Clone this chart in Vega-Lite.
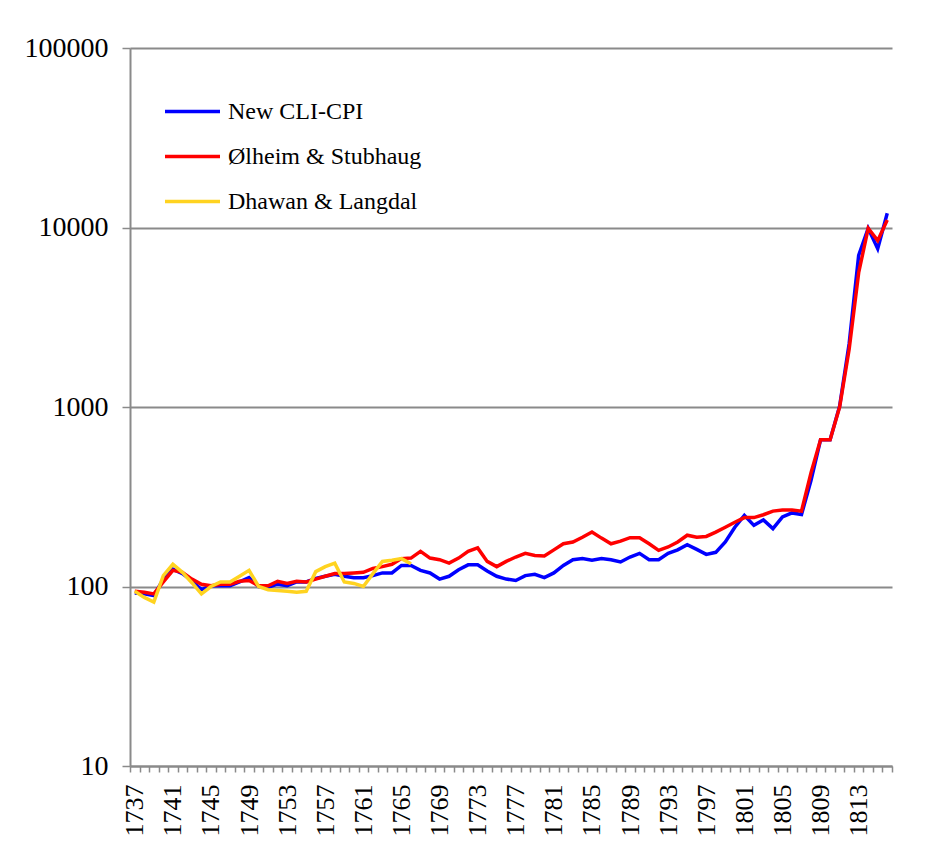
{
  "$schema": "https://vega.github.io/schema/vega-lite/v6.json",
  "width": 762,
  "height": 718,
  "autosize": {"type": "none"},
  "padding": {"left": 130, "top": 48, "right": 41, "bottom": 81},
  "background": "white",
  "config": {"view": {"stroke": null}, "font": "Liberation Serif"},
  "data": {
    "values": [
      {"year":1737,"series":"New CLI-CPI","value":92},{"year":1738,"series":"New CLI-CPI","value":91},{"year":1739,"series":"New CLI-CPI","value":89},{"year":1740,"series":"New CLI-CPI","value":110},{"year":1741,"series":"New CLI-CPI","value":125},{"year":1742,"series":"New CLI-CPI","value":118},{"year":1743,"series":"New CLI-CPI","value":108},{"year":1744,"series":"New CLI-CPI","value":96},{"year":1745,"series":"New CLI-CPI","value":101},{"year":1746,"series":"New CLI-CPI","value":101},{"year":1747,"series":"New CLI-CPI","value":101},{"year":1748,"series":"New CLI-CPI","value":106},{"year":1749,"series":"New CLI-CPI","value":112},{"year":1750,"series":"New CLI-CPI","value":100},{"year":1751,"series":"New CLI-CPI","value":99},{"year":1752,"series":"New CLI-CPI","value":103},{"year":1753,"series":"New CLI-CPI","value":101},{"year":1754,"series":"New CLI-CPI","value":106},{"year":1755,"series":"New CLI-CPI","value":106},{"year":1756,"series":"New CLI-CPI","value":111},{"year":1757,"series":"New CLI-CPI","value":114},{"year":1758,"series":"New CLI-CPI","value":117},{"year":1759,"series":"New CLI-CPI","value":114},{"year":1760,"series":"New CLI-CPI","value":112},{"year":1761,"series":"New CLI-CPI","value":112},{"year":1762,"series":"New CLI-CPI","value":115},{"year":1763,"series":"New CLI-CPI","value":119},{"year":1764,"series":"New CLI-CPI","value":119},{"year":1765,"series":"New CLI-CPI","value":131},{"year":1766,"series":"New CLI-CPI","value":131},{"year":1767,"series":"New CLI-CPI","value":123},{"year":1768,"series":"New CLI-CPI","value":119},{"year":1769,"series":"New CLI-CPI","value":110},{"year":1770,"series":"New CLI-CPI","value":114},{"year":1771,"series":"New CLI-CPI","value":124},{"year":1772,"series":"New CLI-CPI","value":132},{"year":1773,"series":"New CLI-CPI","value":132},{"year":1774,"series":"New CLI-CPI","value":122},{"year":1775,"series":"New CLI-CPI","value":114},{"year":1776,"series":"New CLI-CPI","value":110},{"year":1777,"series":"New CLI-CPI","value":108},{"year":1778,"series":"New CLI-CPI","value":115},{"year":1779,"series":"New CLI-CPI","value":117},{"year":1780,"series":"New CLI-CPI","value":112},{"year":1781,"series":"New CLI-CPI","value":119},{"year":1782,"series":"New CLI-CPI","value":131},{"year":1783,"series":"New CLI-CPI","value":141},{"year":1784,"series":"New CLI-CPI","value":143},{"year":1785,"series":"New CLI-CPI","value":140},{"year":1786,"series":"New CLI-CPI","value":143},{"year":1787,"series":"New CLI-CPI","value":141},{"year":1788,"series":"New CLI-CPI","value":137},{"year":1789,"series":"New CLI-CPI","value":146},{"year":1790,"series":"New CLI-CPI","value":153},{"year":1791,"series":"New CLI-CPI","value":141},{"year":1792,"series":"New CLI-CPI","value":141},{"year":1793,"series":"New CLI-CPI","value":153},{"year":1794,"series":"New CLI-CPI","value":160},{"year":1795,"series":"New CLI-CPI","value":171},{"year":1796,"series":"New CLI-CPI","value":161},{"year":1797,"series":"New CLI-CPI","value":151},{"year":1798,"series":"New CLI-CPI","value":155},{"year":1799,"series":"New CLI-CPI","value":177},{"year":1800,"series":"New CLI-CPI","value":214},{"year":1801,"series":"New CLI-CPI","value":249},{"year":1802,"series":"New CLI-CPI","value":219},{"year":1803,"series":"New CLI-CPI","value":235},{"year":1804,"series":"New CLI-CPI","value":210},{"year":1805,"series":"New CLI-CPI","value":244},{"year":1806,"series":"New CLI-CPI","value":257},{"year":1807,"series":"New CLI-CPI","value":252},{"year":1808,"series":"New CLI-CPI","value":390},{"year":1809,"series":"New CLI-CPI","value":656},{"year":1810,"series":"New CLI-CPI","value":656},{"year":1811,"series":"New CLI-CPI","value":1010},{"year":1812,"series":"New CLI-CPI","value":2250},{"year":1813,"series":"New CLI-CPI","value":7000},{"year":1814,"series":"New CLI-CPI","value":9900},{"year":1815,"series":"New CLI-CPI","value":7620},{"year":1816,"series":"New CLI-CPI","value":12000},
      {"year":1737,"series":"Ølheim & Stubhaug","value":94},{"year":1738,"series":"Ølheim & Stubhaug","value":93},{"year":1739,"series":"Ølheim & Stubhaug","value":91},{"year":1740,"series":"Ølheim & Stubhaug","value":106},{"year":1741,"series":"Ølheim & Stubhaug","value":123},{"year":1742,"series":"Ølheim & Stubhaug","value":120},{"year":1743,"series":"Ølheim & Stubhaug","value":110},{"year":1744,"series":"Ølheim & Stubhaug","value":103},{"year":1745,"series":"Ølheim & Stubhaug","value":101},{"year":1746,"series":"Ølheim & Stubhaug","value":103},{"year":1747,"series":"Ølheim & Stubhaug","value":103},{"year":1748,"series":"Ølheim & Stubhaug","value":107},{"year":1749,"series":"Ølheim & Stubhaug","value":108},{"year":1750,"series":"Ølheim & Stubhaug","value":101},{"year":1751,"series":"Ølheim & Stubhaug","value":101},{"year":1752,"series":"Ølheim & Stubhaug","value":107},{"year":1753,"series":"Ølheim & Stubhaug","value":104},{"year":1754,"series":"Ølheim & Stubhaug","value":107},{"year":1755,"series":"Ølheim & Stubhaug","value":106},{"year":1756,"series":"Ølheim & Stubhaug","value":110},{"year":1757,"series":"Ølheim & Stubhaug","value":114},{"year":1758,"series":"Ølheim & Stubhaug","value":118},{"year":1759,"series":"Ølheim & Stubhaug","value":118},{"year":1760,"series":"Ølheim & Stubhaug","value":119},{"year":1761,"series":"Ølheim & Stubhaug","value":120},{"year":1762,"series":"Ølheim & Stubhaug","value":126},{"year":1763,"series":"Ølheim & Stubhaug","value":129},{"year":1764,"series":"Ølheim & Stubhaug","value":133},{"year":1765,"series":"Ølheim & Stubhaug","value":143},{"year":1766,"series":"Ølheim & Stubhaug","value":144},{"year":1767,"series":"Ølheim & Stubhaug","value":157},{"year":1768,"series":"Ølheim & Stubhaug","value":144},{"year":1769,"series":"Ølheim & Stubhaug","value":141},{"year":1770,"series":"Ølheim & Stubhaug","value":135},{"year":1771,"series":"Ølheim & Stubhaug","value":144},{"year":1772,"series":"Ølheim & Stubhaug","value":157},{"year":1773,"series":"Ølheim & Stubhaug","value":164},{"year":1774,"series":"Ølheim & Stubhaug","value":138},{"year":1775,"series":"Ølheim & Stubhaug","value":129},{"year":1776,"series":"Ølheim & Stubhaug","value":138},{"year":1777,"series":"Ølheim & Stubhaug","value":146},{"year":1778,"series":"Ølheim & Stubhaug","value":153},{"year":1779,"series":"Ølheim & Stubhaug","value":149},{"year":1780,"series":"Ølheim & Stubhaug","value":148},{"year":1781,"series":"Ølheim & Stubhaug","value":160},{"year":1782,"series":"Ølheim & Stubhaug","value":173},{"year":1783,"series":"Ølheim & Stubhaug","value":177},{"year":1784,"series":"Ølheim & Stubhaug","value":188},{"year":1785,"series":"Ølheim & Stubhaug","value":201},{"year":1786,"series":"Ølheim & Stubhaug","value":186},{"year":1787,"series":"Ølheim & Stubhaug","value":173},{"year":1788,"series":"Ølheim & Stubhaug","value":179},{"year":1789,"series":"Ølheim & Stubhaug","value":187},{"year":1790,"series":"Ølheim & Stubhaug","value":187},{"year":1791,"series":"Ølheim & Stubhaug","value":173},{"year":1792,"series":"Ølheim & Stubhaug","value":159},{"year":1793,"series":"Ølheim & Stubhaug","value":166},{"year":1794,"series":"Ølheim & Stubhaug","value":177},{"year":1795,"series":"Ølheim & Stubhaug","value":193},{"year":1796,"series":"Ølheim & Stubhaug","value":188},{"year":1797,"series":"Ølheim & Stubhaug","value":190},{"year":1798,"series":"Ølheim & Stubhaug","value":201},{"year":1799,"series":"Ølheim & Stubhaug","value":214},{"year":1800,"series":"Ølheim & Stubhaug","value":228},{"year":1801,"series":"Ølheim & Stubhaug","value":242},{"year":1802,"series":"Ølheim & Stubhaug","value":242},{"year":1803,"series":"Ølheim & Stubhaug","value":251},{"year":1804,"series":"Ølheim & Stubhaug","value":263},{"year":1805,"series":"Ølheim & Stubhaug","value":267},{"year":1806,"series":"Ølheim & Stubhaug","value":267},{"year":1807,"series":"Ølheim & Stubhaug","value":263},{"year":1808,"series":"Ølheim & Stubhaug","value":430},{"year":1809,"series":"Ølheim & Stubhaug","value":656},{"year":1810,"series":"Ølheim & Stubhaug","value":656},{"year":1811,"series":"Ølheim & Stubhaug","value":1000},{"year":1812,"series":"Ølheim & Stubhaug","value":2100},{"year":1813,"series":"Ølheim & Stubhaug","value":5600},{"year":1814,"series":"Ølheim & Stubhaug","value":9900},{"year":1815,"series":"Ølheim & Stubhaug","value":8450},{"year":1816,"series":"Ølheim & Stubhaug","value":11000},
      {"year":1737,"series":"Dhawan & Langdal","value":94},{"year":1738,"series":"Dhawan & Langdal","value":87},{"year":1739,"series":"Dhawan & Langdal","value":82},{"year":1740,"series":"Dhawan & Langdal","value":115},{"year":1741,"series":"Dhawan & Langdal","value":133},{"year":1742,"series":"Dhawan & Langdal","value":120},{"year":1743,"series":"Dhawan & Langdal","value":105},{"year":1744,"series":"Dhawan & Langdal","value":91},{"year":1745,"series":"Dhawan & Langdal","value":100},{"year":1746,"series":"Dhawan & Langdal","value":106},{"year":1747,"series":"Dhawan & Langdal","value":106},{"year":1748,"series":"Dhawan & Langdal","value":114},{"year":1749,"series":"Dhawan & Langdal","value":123},{"year":1750,"series":"Dhawan & Langdal","value":100},{"year":1751,"series":"Dhawan & Langdal","value":96},{"year":1752,"series":"Dhawan & Langdal","value":95},{"year":1753,"series":"Dhawan & Langdal","value":94},{"year":1754,"series":"Dhawan & Langdal","value":93},{"year":1755,"series":"Dhawan & Langdal","value":94},{"year":1756,"series":"Dhawan & Langdal","value":121},{"year":1757,"series":"Dhawan & Langdal","value":129},{"year":1758,"series":"Dhawan & Langdal","value":135},{"year":1759,"series":"Dhawan & Langdal","value":106},{"year":1760,"series":"Dhawan & Langdal","value":104},{"year":1761,"series":"Dhawan & Langdal","value":100},{"year":1762,"series":"Dhawan & Langdal","value":118},{"year":1763,"series":"Dhawan & Langdal","value":138},{"year":1764,"series":"Dhawan & Langdal","value":140},{"year":1765,"series":"Dhawan & Langdal","value":143},{"year":1766,"series":"Dhawan & Langdal","value":134}
    ]
  },
  "mark": {"type": "line", "strokeWidth": 3.5, "strokeJoin": "miter"},
  "encoding": {
    "x": {
      "field": "year",
      "type": "ordinal",
      "bandPosition": 0.5,
      "scale": {"type": "band", "paddingInner": 0, "paddingOuter": 0},
      "axis": {
        "title": null,
        "tickBand": "extent",
        "labelAngle": -90,
        "labelExpr": "(datum.value - 1737) % 4 == 0 ? datum.label : ''",
        "labelOverlap": false,
        "labelFont": "Liberation Serif",
        "labelFontSize": 26,
        "labelColor": "black",
        "labelPadding": 12,
        "tickSize": 6,
        "tickColor": "#8a8a8a",
        "tickWidth": 1.5,
        "domainColor": "#8a8a8a",
        "domainWidth": 2,
        "grid": false
      }
    },
    "y": {
      "field": "value",
      "type": "quantitative",
      "scale": {"type": "log", "domain": [10, 100000], "nice": false},
      "axis": {
        "title": null,
        "values": [10, 100, 1000, 10000, 100000],
        "format": "d",
        "labelFont": "Liberation Serif",
        "labelFontSize": 28,
        "labelColor": "black",
        "labelPadding": 14,
        "tickSize": 8,
        "tickColor": "#8a8a8a",
        "tickWidth": 1.5,
        "domainColor": "#8a8a8a",
        "domainWidth": 2,
        "grid": true,
        "gridColor": "#8a8a8a",
        "gridWidth": 2
      }
    },
    "color": {
      "field": "series",
      "type": "nominal",
      "scale": {
        "domain": ["New CLI-CPI", "Ølheim & Stubhaug", "Dhawan & Langdal"],
        "range": ["#0000FF", "#FF0000", "#FFD320"]
      },
      "legend": {
        "title": null,
        "orient": "none",
        "legendX": 33,
        "legendY": 34,
        "symbolType": "stroke",
        "symbolSize": 3025,
        "symbolStrokeWidth": 3.5,
        "labelFont": "Liberation Serif",
        "labelFontSize": 24,
        "labelColor": "black",
        "labelOffset": 6,
        "rowPadding": 3,
        "labelLimit": 400
      }
    }
  }
}
